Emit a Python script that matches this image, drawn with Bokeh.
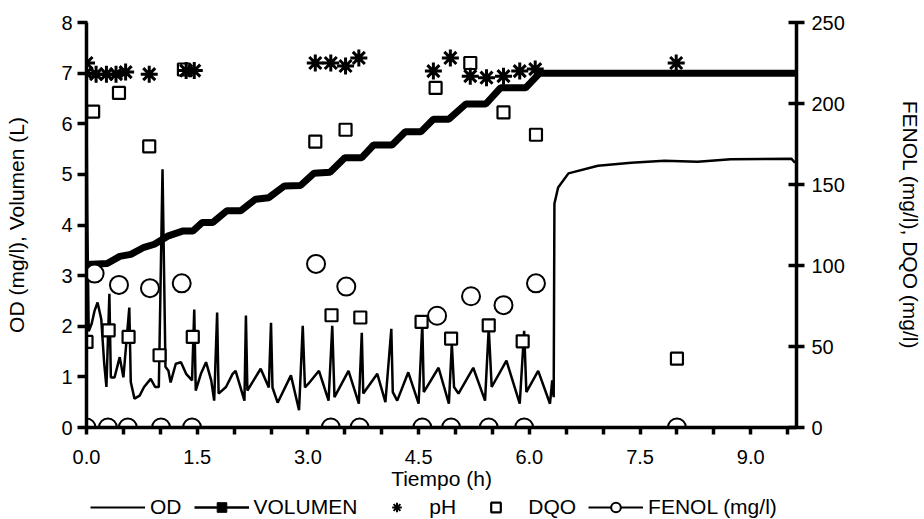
from bokeh.plotting import figure
from bokeh.layouts import column
from bokeh.models import Range1d, LinearAxis, FixedTicker, Legend, LegendItem, PrintfTickFormatter
from bokeh.embed import file_html
from bokeh.resources import INLINE

# ---------------- data ----------------
OD_T = [0.00, 0.01, 0.03, 0.07, 0.11, 0.15, 0.20, 0.24, 0.27, 0.31, 0.33, 0.38, 0.45, 0.50,
        0.58, 0.60, 0.65, 0.72, 0.78, 0.87, 0.93, 0.98, 1.03, 1.07, 1.11, 1.14, 1.21, 1.28,
        1.35, 1.43, 1.46, 1.48, 1.55, 1.62, 1.69, 1.73, 1.77, 1.79, 1.89, 1.98, 2.02, 2.14,
        2.16, 2.18, 2.36, 2.47, 2.50, 2.52, 2.59, 2.77, 2.88, 2.93, 2.96, 3.01, 3.15, 3.28,
        3.33, 3.36, 3.55, 3.69, 3.73, 3.75, 3.94, 4.05, 4.13, 4.15, 4.21, 4.36, 4.50, 4.55,
        4.57, 4.77, 4.91, 4.95, 4.98, 5.04, 5.24, 5.40, 5.45, 5.49, 5.69, 5.87, 5.93, 5.96,
        6.12, 6.28, 6.31, 6.33, 6.34, 6.39, 6.53, 6.93, 7.38, 7.83, 8.28, 8.73, 9.55, 9.60]
OD_V = [6.40, 4.20, 1.90, 2.05, 2.31, 2.47, 2.14, 1.26, 0.80, 2.64, 0.99, 0.99, 1.39, 0.99,
        2.37, 0.90, 0.57, 0.63, 0.80, 0.96, 0.80, 0.80, 5.10, 1.20, 1.12, 0.89, 1.26, 1.29,
        1.06, 0.93, 2.33, 0.73, 1.06, 1.29, 0.93, 0.53, 2.27, 0.67, 0.80, 1.06, 1.12, 0.53,
        2.21, 0.73, 1.16, 0.79, 2.07, 0.79, 0.49, 1.03, 0.34, 2.01, 0.79, 0.87, 1.12, 0.53,
        2.01, 0.60, 1.12, 0.47, 1.87, 0.67, 1.06, 0.50, 1.95, 0.70, 0.53, 1.09, 0.47, 2.05,
        0.70, 1.18, 0.47, 1.66, 0.80, 0.67, 1.18, 0.53, 1.97, 0.80, 1.32, 0.47, 1.91, 0.70,
        1.12, 0.47, 0.93, 0.60, 4.42, 4.74, 5.02, 5.17, 5.23, 5.27, 5.25, 5.30, 5.31, 5.23]

VOL_T = [0.00, 0.28, 0.45, 0.60, 0.78, 0.92, 1.10, 1.30, 1.44, 1.57, 1.71, 1.90, 2.09, 2.29,
         2.47, 2.68, 2.90, 3.08, 3.30, 3.50, 3.73, 3.89, 4.14, 4.32, 4.53, 4.70, 4.91, 5.14,
         5.41, 5.61, 5.95, 6.14, 9.62]
VOL_V = [3.22, 3.24, 3.38, 3.42, 3.56, 3.62, 3.78, 3.88, 3.88, 4.05, 4.05, 4.28, 4.28, 4.51,
         4.54, 4.77, 4.78, 5.02, 5.04, 5.33, 5.33, 5.58, 5.58, 5.84, 5.84, 6.09, 6.09, 6.39,
         6.39, 6.71, 6.71, 7.00, 7.00]

PH_T = [0.00, 0.00, 0.13, 0.27, 0.40, 0.53, 0.85, 1.35, 1.46, 3.10, 3.31, 3.51, 3.69, 4.70,
        4.93, 5.20, 5.42, 5.65, 5.87, 6.08, 7.99]
PH_V = [7.20, 7.00, 6.98, 6.98, 6.98, 7.02, 6.98, 7.05, 7.05, 7.20, 7.20, 7.14, 7.30, 7.04,
        7.30, 6.94, 6.91, 6.94, 7.04, 7.08, 7.20]

DQO_T = [0.00, 0.09, 0.30, 0.44, 0.57, 0.85, 0.99, 1.32, 1.44, 3.10, 3.32, 3.51, 3.71, 4.54,
         4.73, 4.94, 5.20, 5.45, 5.65, 5.91, 6.09, 8.00]
DQO_V = [52.8, 195.0, 60.0, 206.5, 55.9, 173.5, 44.6, 221.0, 55.9, 176.5, 69.3, 183.8, 67.9,
         65.2, 209.6, 54.9, 225.0, 63.1, 194.5, 53.2, 180.7, 42.5]

FENOL_T = [0.00, 0.29, 0.56, 1.01, 1.43, 3.31, 3.70, 4.55, 4.94, 5.45, 5.93, 8.00]
FENOL_V = [0, 0, 0, 0, 0, 0, 0, 0, 0, 0, 0, 0]

FENOL_ALTO_T = [0.11, 0.44, 0.86, 1.29, 3.11, 3.52, 4.75, 5.21, 5.65, 6.09]
FENOL_ALTO_V = [95.0, 88.0, 86.0, 89.0, 101.0, 87.0, 69.0, 81.0, 75.5, 89.0]

X_LABEL_TICKS = [0.0, 1.5, 3.0, 4.5, 6.0, 7.5, 9.0]
X_MINOR_TICKS = [0.5, 1.0, 2.0, 2.5, 3.5, 4.0, 5.0, 5.5, 6.5, 7.0, 8.0, 8.5, 9.5]
Y_LEFT_TICKS = [0, 1, 2, 3, 4, 5, 6, 7, 8]
Y_RIGHT_TICKS = [0, 50, 100, 150, 200, 250]

LEGEND_LABELS = ["OD", "VOLUMEN", "pH", "DQO", "FENOL (mg/l)"]

FONT = "Liberation Sans"
K = "black"
NAN = float("nan")

# ---------------- main figure ----------------
p = figure(width=924, height=495, output_backend="svg", toolbar_location=None,
           x_range=Range1d(0, 9.62), y_range=Range1d(0, 8),
           min_border_left=86, min_border_right=125, min_border_top=22,
           min_border_bottom=68, background_fill_color="white")
p.extra_y_ranges = {"right": Range1d(0, 250)}
p.outline_line_color = None
p.grid.visible = False

right_axis = LinearAxis(y_range_name="right")
p.add_layout(right_axis, "right")


def style(ax):
    ax.axis_line_color = K
    ax.axis_line_width = 3.5
    ax.major_tick_line_color = K
    ax.major_tick_line_width = 3.5
    ax.minor_tick_line_color = None
    ax.major_label_text_font = FONT
    ax.major_label_text_font_size = "20px"
    ax.major_label_text_color = K
    ax.axis_label_text_font = FONT
    ax.axis_label_text_font_size = "21px"
    ax.axis_label_text_font_style = "normal"
    ax.axis_label_text_color = K


xa = p.xaxis[0]
style(xa)
xa.ticker = FixedTicker(ticks=X_LABEL_TICKS, minor_ticks=X_MINOR_TICKS)
xa.formatter = PrintfTickFormatter(format="%.1f")
xa.major_tick_in = 0
xa.major_tick_out = 7
xa.minor_tick_line_color = K
xa.minor_tick_line_width = 3.5
xa.minor_tick_in = 0
xa.minor_tick_out = 7
xa.major_label_standoff = 15
xa.axis_label = "Tiempo (h)"
xa.axis_label_standoff = 0

ya = p.yaxis[0]
style(ya)
ya.ticker = FixedTicker(ticks=Y_LEFT_TICKS)
ya.major_tick_in = 1
ya.major_tick_out = 9
ya.major_label_standoff = 5
ya.axis_label = "OD (mg/l), Volumen (L)"
ya.axis_label_standoff = 30

style(right_axis)
right_axis.ticker = FixedTicker(ticks=Y_RIGHT_TICKS)
right_axis.major_tick_in = 8
right_axis.major_tick_out = 8
right_axis.major_label_standoff = 7
right_axis.axis_label = "FENOL (mg/l), DQO (mg/l)"
right_axis.axis_label_standoff = 51

p.line(OD_T, OD_V, line_color=K, line_width=2.5)
p.line(VOL_T, VOL_V, line_color=K, line_width=7)
p.line(FENOL_T, FENOL_V, line_color=K, line_width=3, y_range_name="right")
p.scatter(DQO_T, DQO_V, marker="square", size=12, line_color=K, line_width=2.2,
          fill_color="white", y_range_name="right")
p.scatter(FENOL_T, FENOL_V, marker="circle", size=18, line_color=K, line_width=2,
          fill_color="white", y_range_name="right")
p.scatter(FENOL_ALTO_T, FENOL_ALTO_V, marker="circle", size=18, line_color=K, line_width=2,
          fill_color="white", y_range_name="right")
p.scatter(PH_T, PH_V, marker="asterisk", size=17, line_color=K, line_width=3)

# ---------------- legend strip (separate figure below) ----------------
lf = figure(width=924, height=24, output_backend="svg", toolbar_location=None,
            x_range=Range1d(0, 1), y_range=Range1d(0, 1),
            x_axis_type=None, y_axis_type=None,
            min_border_left=0, min_border_right=0, min_border_top=0, min_border_bottom=0)
lf.outline_line_color = None
lf.grid.visible = False

lg_od = lf.line(x=[NAN], y=[NAN], line_color=K, line_width=2)
lg_vol_l = lf.line(x=[NAN], y=[NAN], line_color=K, line_width=2.5)
lg_vol_m = lf.scatter(x=[NAN], y=[NAN], marker="square", line_color=K, fill_color=K, line_width=1)
lg_ph = lf.scatter(x=[NAN], y=[NAN], marker="asterisk", line_color=K, line_width=2)
lg_dqo = lf.scatter(x=[NAN], y=[NAN], marker="square", line_color=K, fill_color="white", line_width=2.2)
lg_fen_l = lf.line(x=[NAN], y=[NAN], line_color=K, line_width=2)
lg_fen_m = lf.scatter(x=[NAN], y=[NAN], marker="circle", line_color=K, fill_color="white", line_width=2)

legend = Legend(items=[
    LegendItem(label=LEGEND_LABELS[0], renderers=[lg_od]),
    LegendItem(label=LEGEND_LABELS[1], renderers=[lg_vol_l, lg_vol_m]),
    LegendItem(label=LEGEND_LABELS[2], renderers=[lg_ph]),
    LegendItem(label=LEGEND_LABELS[3], renderers=[lg_dqo]),
    LegendItem(label=LEGEND_LABELS[4], renderers=[lg_fen_l, lg_fen_m]),
], orientation="horizontal", location=(4, 0))
legend.glyph_width = 55
legend.glyph_height = 24
legend.label_height = 20
legend.label_standoff = 5
legend.spacing = 12
legend.padding = 0
legend.margin = 0
legend.border_line_color = None
legend.background_fill_alpha = 0
legend.label_text_font = FONT
legend.label_text_font_size = "21px"
legend.label_text_color = K
lf.add_layout(legend, "center")

layout = column(p, lf, spacing=0)
open("out.html", "w").write(file_html(layout, INLINE))
